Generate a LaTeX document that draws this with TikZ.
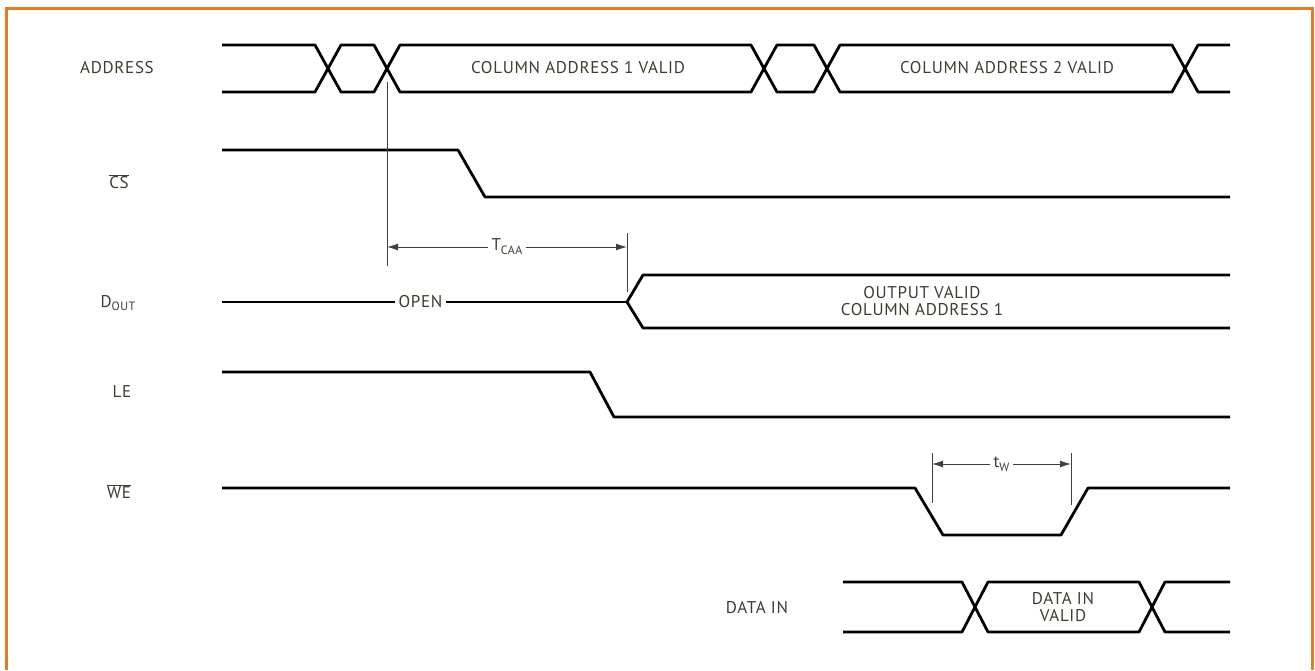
\documentclass[tikz,border=0pt]{standalone}
\usepackage{fontspec}
\setmainfont{PT Sans}[LetterSpace=4]
\usepackage{xcolor}
\usepackage{tikz}
\usetikzlibrary{arrows.meta, positioning, calc}

\definecolor{framecol}{HTML}{E07B28}
\definecolor{textgray}{HTML}{3A3F30}

\newcommand{\sigfont}{\fontsize{17}{20}\selectfont}
\newcommand{\subfont}{\fontsize{12}{13}\selectfont}
\newcommand{\barred}[1]{$\overline{\hbox{#1}}$}
\newcommand{\subtxt}[1]{\raisebox{-0.45ex}{\subfont #1}}

\tikzset{
  sigline/.style={line width=2.8pt, line join=round, black},
  siglabel/.style={font=\sigfont, text=textgray, inner sep=1pt, align=center},
  sigtext/.style={font=\sigfont, text=textgray, inner sep=1pt, align=center},
  guideline/.style={line width=1pt, black!75},
  timearrow/.style={
    {Latex[length=11pt,width=7pt]}-{Latex[length=11pt,width=7pt]},
    line width=1pt, black!75
  },
  gaplabel/.style={font=\sigfont, text=textgray, fill=white, inner sep=4pt},
}

\begin{document}
\begin{tikzpicture}[x=1pt, y=-1pt]
  \useasboundingbox (0,0) rectangle (1315,670);

  % ── Frame ──
  \draw[framecol, line width=3pt] (6,670) -- (6,8) -- (1312,8) -- (1312,670);

  % ── Signal names ──
  \node[siglabel] (lbladdr) at (117,68) {ADDRESS};
  \node[siglabel] (lblcs)   at (119,182) {\barred{CS}};
  \node[siglabel] (lbldout) at (118,303) {D\subtxt{OUT}};
  \node[siglabel] (lblle)   at (122,392) {LE};
  \node[siglabel] (lblwe)   at (119,492) {\barred{WE}};
  \node[siglabel] (lbldin)  at (757,608) {DATA IN};

  % ── Address bus ──
  \draw[sigline] (222,45) -- (315,45) -- (341,92) -- (374,92) -- (400,45)
    -- (751,45) -- (777,92) -- (814,92) -- (840,45) -- (1172,45) -- (1198,92) -- (1230,92);
  \draw[sigline] (222,92) -- (315,92) -- (341,45) -- (374,45) -- (400,92)
    -- (751,92) -- (777,45) -- (814,45) -- (840,92) -- (1172,92) -- (1198,45) -- (1230,45);
  \node[sigtext] (colone) at (578,68) {COLUMN ADDRESS 1 VALID};
  \node[sigtext] (coltwo) at (1007,68) {COLUMN ADDRESS 2 VALID};

  % ── Chip select ──
  \draw[sigline] (222,150) -- (458,150) -- (485,197) -- (1230,197);

  % ── Access time ──
  \coordinate (caatop) at (387,82);
  \coordinate (caabot) at (387,266);
  \coordinate (valtop) at (627,233);
  \coordinate (valbot) at (627,292);
  \draw[guideline] (caatop) -- (caabot);
  \draw[guideline] (valtop) -- (valbot);
  \coordinate (caaL) at (387,247);
  \coordinate (caaR) at (627,247);
  \draw[timearrow] (caaL) -- node[gaplabel] (tcaa) {T\subtxt{CAA}} (caaR);

  % ── Data out ──
  \draw[sigline] (222,302) -- node[gaplabel, pos=0.49] (open) {OPEN} (627,302);
  \draw[sigline] (627,302) -- (643,275) -- (1230,275);
  \draw[sigline] (627,302) -- (643,328) -- (1230,328);
  \node[sigtext] (outvalid) at (922,301) {OUTPUT VALID\\[-3pt]COLUMN ADDRESS 1};

  % ── Latch enable ──
  \draw[sigline] (222,372) -- (590,372) -- (614,417) -- (1230,417);

  % ── Write enable ──
  \draw[sigline] (222,488) -- (915,488) -- (943,535) -- (1061,535) -- (1088,488) -- (1230,488);
  \coordinate (wetopL) at (932,453);
  \coordinate (webotL) at (932,503);
  \coordinate (wetopR) at (1071,453);
  \coordinate (webotR) at (1071,505);
  \draw[guideline] (wetopL) -- (webotL);
  \draw[guideline] (wetopR) -- (webotR);
  \coordinate (twL) at (932,464);
  \coordinate (twR) at (1071,464);
  \draw[timearrow] (twL) -- node[gaplabel] (tw) {t\subtxt{W}} (twR);

  % ── Data in ──
  \draw[sigline] (843,582) -- (962,582) -- (988,632) -- (1139,632) -- (1165,582) -- (1230,582);
  \draw[sigline] (843,632) -- (962,632) -- (988,582) -- (1139,582) -- (1165,632) -- (1230,632);
  \node[sigtext] (dinvalid) at (1063,607) {DATA IN\\[-3pt]VALID};
\end{tikzpicture}
\end{document}
